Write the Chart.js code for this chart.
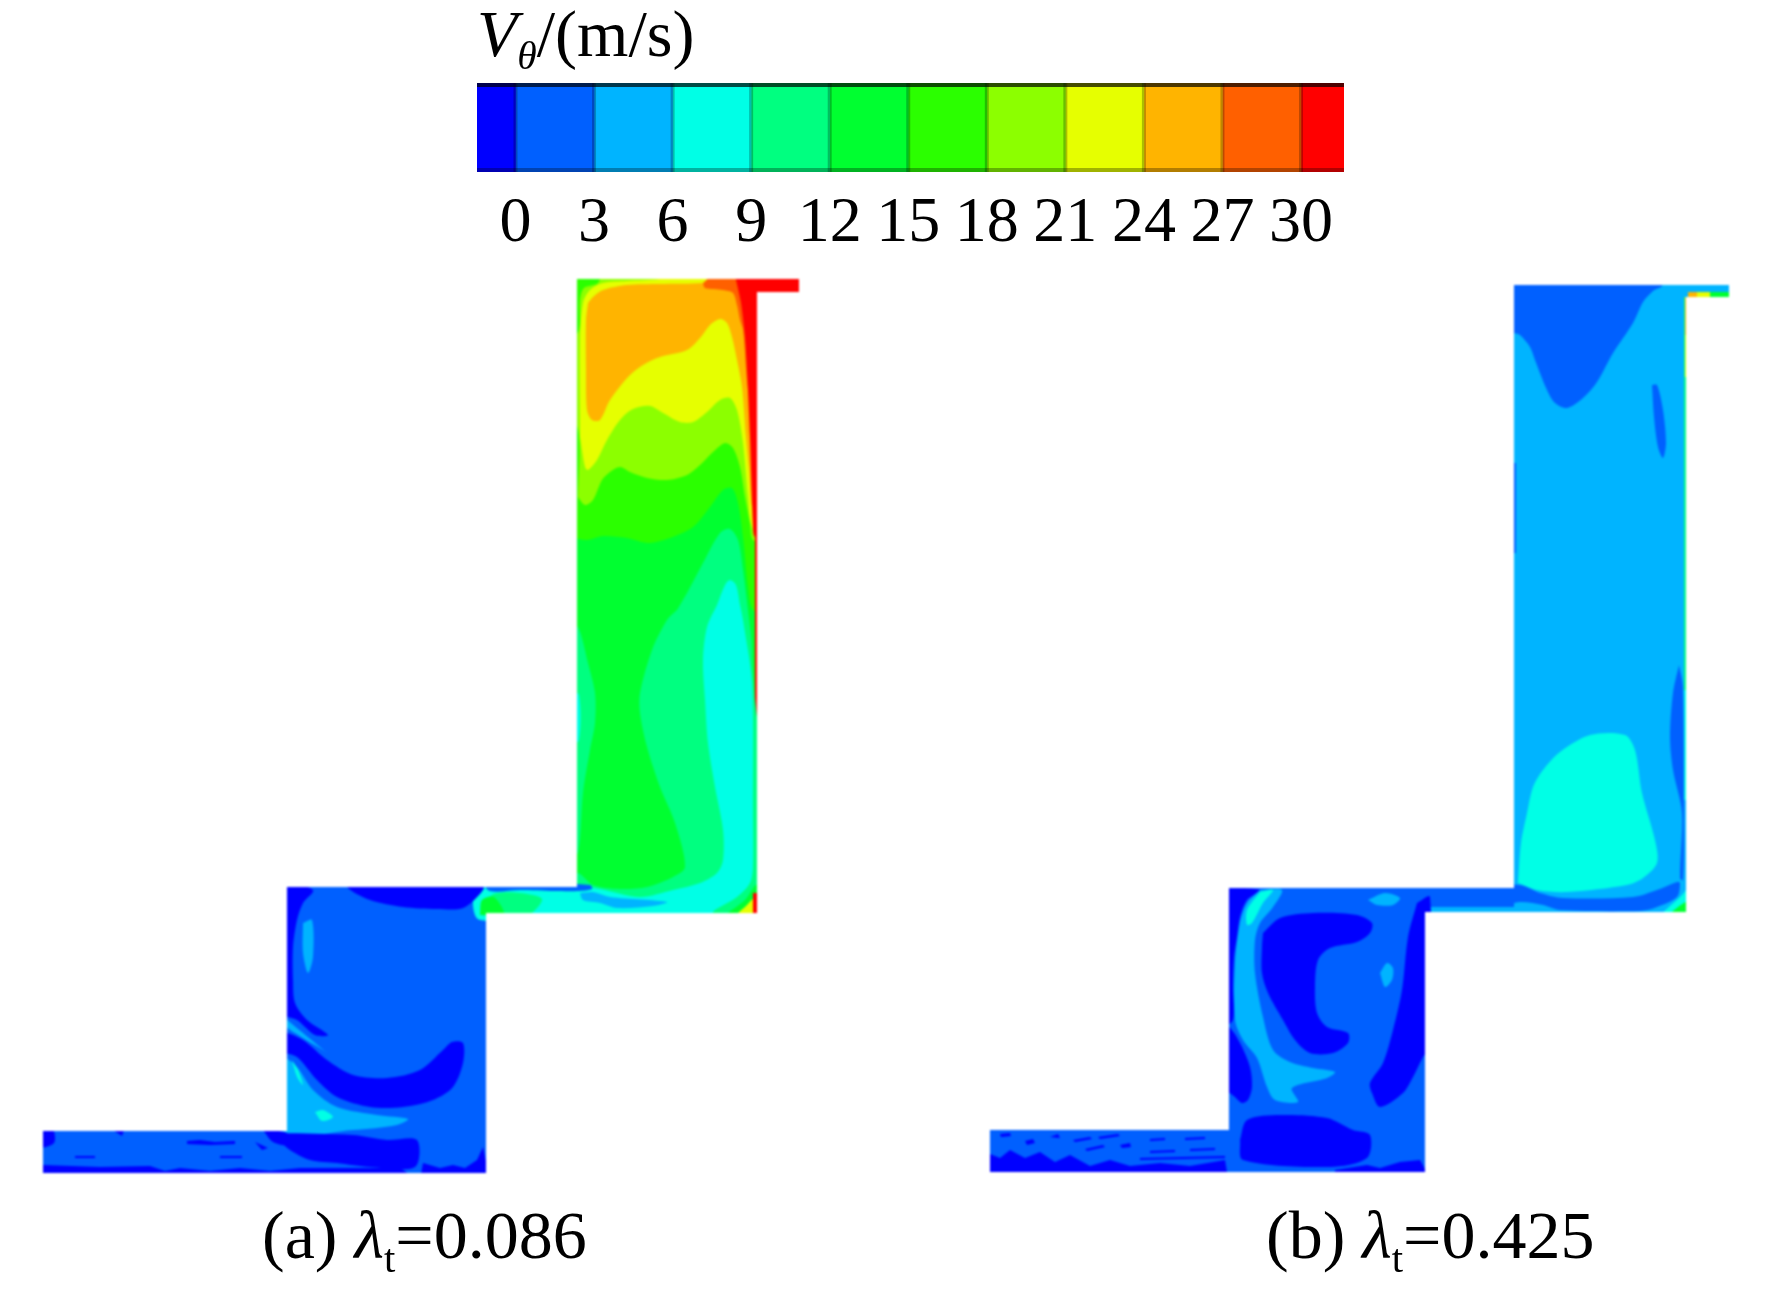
<!DOCTYPE html>
<html>
<head>
<meta charset="utf-8">
<title>V_theta contours</title>
<script src="https://cdn.jsdelivr.net/npm/chart.js@4/dist/chart.umd.min.js"></script>
<style>
    html, body { margin: 0; padding: 0; background: #fff; }
    body { position: relative; width: 1772px; height: 1292px; overflow: hidden; }
    canvas { position: absolute; }
    #contours { left: 0; top: 0; filter: blur(1px); }
    #colorbar { left: 477px; top: 83px; filter: blur(0.6px); }
    .label { position: absolute; font: 68px/1 "Liberation Serif", serif; color: #000; white-space: nowrap; }
    .label sub { font-size: 0.6em; line-height: 0; vertical-align: -0.34em; }
</style>
</head>
<body>
<canvas id="contours" width="1772" height="1292"></canvas>
<canvas id="colorbar" width="870" height="160"></canvas>
<div class="label" style="left:477px;top:1px;font-size:66px"><i>V</i><sub><i>θ</i></sub>/(m/s)</div>
<div class="label" style="left:262px;top:1201px">(a) <i>λ</i><sub>t</sub>=0.086</div>
<div class="label" style="left:1266px;top:1201px">(b) <i>λ</i><sub>t</sub>=0.425</div>
<script>
'use strict'

// colour bar: one colour per band, band edges and ticks in m/s
const TICK_VALUES = [0, 3, 6, 9, 12, 15, 18, 21, 24, 27, 30]
const BAND_EDGES = [-1.47, 0, 3, 6, 9, 12, 15, 18, 21, 24, 27, 30, 31.64]
const BAND_COLORS = ['#0000ff', '#0060ff', '#00b4ff', '#00ffe6', '#00ff80', '#00ff30',
    '#2bff00', '#8cff00', '#e6ff00', '#ffb400', '#ff6000', '#ff0000']

// contour outlines, [x, y] in picture units
const a_domain = [[43,1131],[287,1131],[287,887],[577,887],[577,279],[799,279],[799,292],[757,292],[757,913],[486,913],[486,1173],[43,1173]]
const a_box = [[570,270],[810,270],[810,300],[765,300],[765,920],[570,920]]
const a_corner = [[570,270],[600,270],[598,283],[584,288],[580,300],[579,330],[570,340]]
const a_15 = [[570,537],[587,540],[603,536],[627,538],[648,543],[670,538],[693,527],[710,507],[723,490],[732,488],[738,503],[743,537],[748,587],[753,610],[765,610],[765,270],[570,270]]
const a_18 = [[578,497],[585,505],[593,500],[602,480],[610,472],[620,467],[630,472],[647,478],[667,480],[687,475],[700,465],[713,452],[725,443],[733,448],[740,467],[745,497],[750,523],[753,540],[765,540],[765,270],[570,270],[570,400],[579,435]]
const a_21 = [[580,437],[585,467],[588,470],[597,460],[607,440],[620,420],[633,409],[650,406],[663,413],[680,422],[693,422],[707,412],[720,400],[730,398],[737,410],[743,443],[748,497],[752,527],[765,540],[765,270],[700,270],[660,279],[627,281],[603,283],[590,290],[583,303],[580,340]]
const a_24 = [[588,303],[593,297],[603,290],[627,285],[660,284],[703,283],[740,278],[755,300],[758,420],[752,505],[749,470],[746,437],[742,387],[737,360],[732,337],[727,323],[720,319],[710,325],[700,338],[687,350],[660,357],[643,365],[628,377],[610,400],[600,420],[592,420],[587,410],[586,370],[586,320]]
const a_27 = [[703,283],[705,288],[723,290],[733,293],[737,305],[740,320],[743,330],[750,400],[760,400],[760,270],[720,270]]
const a_30 = [[736,280],[741,303],[745,337],[747,370],[750,437],[753,527],[755,537],[765,537],[765,300],[810,300],[810,270],[736,270]]
const a_wall_red = [[755,530],[765,530],[765,780],[755,780]]
const a_wall_yellow = [[754,780],[765,780],[765,893],[754,893]]
const a_12_right = [[677,610],[687,593],[703,563],[720,533],[730,529],[738,540],[743,570],[748,610],[752,650],[752,905],[570,905],[570,880],[578,873],[593,885],[620,889],[647,887],[673,877],[685,867],[675,823],[660,787],[647,747],[640,713],[640,693],[652,650],[667,620]]
const a_12_left = [[570,627],[578,627],[588,663],[595,693],[595,723],[590,750],[583,793],[578,853],[570,853]]
const a_9_left = [[570,690],[579,695],[579,740],[570,745]]
const a_9 = [[717,605],[725,585],[730,580],[736,585],[740,605],[743,620],[752,683],[753,813],[753,867],[750,883],[737,897],[720,907],[713,912],[713,920],[480,920],[480,880],[577,885],[600,889],[640,897],[673,890],[700,883],[717,873],[723,860],[723,830],[715,787],[708,743],[705,700],[703,660],[707,627]]
const a_duct_12 = [[487,915],[490,897],[497,893],[520,893],[542,899],[528,915]]
const a_duct_15 = [[480,915],[482,900],[494,897],[504,915]]
const a_duct_6 = [[580,893],[593,892],[610,897],[667,902],[653,906],[617,908],[600,903],[583,900]]
const a_duct_3 = [[480,880],[590,885],[592,889],[578,891],[555,891],[520,890],[490,891]]
const a_corner_15 = [[725,915],[745,900],[757,885],[765,920]]
const a_corner_21 = [[730,920],[745,907],[757,897],[765,920]]
const a_corner_red = [[753,893],[765,893],[765,920],[753,920]]
const a_mid_arc = [[280,880],[313,890],[303,903],[297,920],[293,947],[293,980],[295,1003],[307,1020],[328,1035],[315,1035],[297,1020],[280,1012]]
const a_mid_top = [[348,880],[348,888],[370,900],[403,907],[437,909],[463,908],[483,890],[483,880]]
const a_mid_crescent = [[280,1030],[303,1040],[327,1060],[353,1075],[387,1078],[420,1070],[443,1050],[452,1042],[463,1043],[463,1063],[453,1087],[433,1100],[403,1107],[370,1107],[337,1097],[317,1080],[297,1057],[280,1050]]
const a_mid_wedge = [[280,1053],[297,1067],[313,1090],[337,1107],[377,1115],[408,1119],[397,1125],[353,1130],[280,1132]]
const a_mid_sliver = [[303,923],[312,920],[313,957],[308,973],[303,953]]
const a_mid_stripe = [[280,1014],[303,1033],[327,1053],[323,1050],[303,1038],[280,1022]]
const a_mid_spot = [[315,1112],[323,1110],[333,1117],[322,1121]]
const a_mid_spot2 = [[292,1060],[298,1070],[303,1085],[297,1077]]
const a_mid_block = [[280,1133],[353,1135],[387,1140],[417,1140],[415,1167],[370,1167],[337,1163],[310,1160],[290,1150],[280,1140]]
const a_floor = [[40,1165],[100,1167],[150,1166],[165,1171],[180,1168],[210,1171],[240,1168],[270,1171],[300,1168],[400,1168],[415,1178],[40,1178]]
const a_inlet_corner = [[40,1130],[53,1130],[54,1143],[40,1147]]
const a_inlet_fleck = [[263,1130],[287,1133],[290,1145],[273,1142]]
const a_inlet_fleck2 = [[187,1141],[200,1140],[215,1142],[235,1141],[235,1144],[210,1145],[187,1144]]
const a_inlet_fleck3 = [[113,1130],[124,1130],[122,1136]]
const a_inlet_fleck4 = [[75,1156],[95,1156],[95,1158],[75,1158]]
const a_inlet_fleck5 = [[220,1156],[242,1156],[242,1158],[220,1158]]
const a_inlet_fleck6 = [[255,1142],[268,1148],[262,1150]]
const a_floor_right = [[483,1147],[490,1180],[420,1180],[423,1163],[440,1168],[453,1165],[465,1168],[477,1160]]

const b_domain = [[990,1130],[1229,1130],[1229,888],[1514,888],[1514,285],[1729,285],[1729,297],[1686,297],[1686,912],[1425,912],[1425,1172],[990,1172]]
const b_box = [[1514,280],[1735,280],[1735,300],[1695,300],[1695,920],[1514,920]]
const b_top = [[1510,280],[1662,280],[1662,286],[1653,291],[1643,302],[1633,323],[1613,353],[1597,382],[1583,398],[1567,408],[1555,403],[1547,390],[1535,360],[1530,347],[1520,335],[1514,333],[1510,333]]
const b_sliver = [[1652,385],[1657,385],[1663,410],[1666,443],[1663,458],[1658,447],[1654,417]]
const b_left_edge = [[1510,463],[1516,463],[1516,553],[1510,553]]
const b_blob = [[1518,883],[1521,843],[1527,813],[1533,787],[1543,770],[1560,752],[1590,735],[1625,735],[1635,750],[1642,793],[1655,840],[1657,863],[1643,878],[1627,885],[1567,892],[1537,890]]
const b_right_sliver = [[1679,665],[1683,687],[1684,823],[1683,880],[1680,878],[1682,813],[1673,770],[1670,737],[1673,693]]
const b_band = [[1420,885],[1520,885],[1540,893],[1563,898],[1633,897],[1657,890],[1677,882],[1680,883],[1677,897],[1657,907],[1640,911],[1560,910],[1543,905],[1520,902],[1500,907],[1420,906]]
const b_duct_floor = [[1425,907],[1514,907],[1514,915],[1425,915]]
const b_wall_12 = [[1684,297],[1695,297],[1695,690],[1684,690]]
const b_wall_9 = [[1684,690],[1695,690],[1695,800],[1684,800]]
const b_wall_21 = [[1685,335],[1695,335],[1695,377],[1685,377]]
const b_wall_24 = [[1685,297],[1695,297],[1695,335],[1685,335]]
const b_stub_24 = [[1688,292],[1697,292],[1697,300],[1688,300]]
const b_stub_21 = [[1697,292],[1710,292],[1710,300],[1697,300]]
const b_stub_15 = [[1710,292],[1735,292],[1735,300],[1710,300]]
const b_corner_9 = [[1660,915],[1682,895],[1695,880],[1695,915]]
const b_corner_12 = [[1668,915],[1684,903],[1695,900],[1695,915]]
const b_mid_left = [[1220,888],[1260,890],[1247,900],[1240,917],[1237,937],[1234,957],[1233,987],[1233,1020],[1220,1027]]
const b_mid_left2 = [[1220,1027],[1229,1027],[1240,1043],[1250,1067],[1252,1087],[1248,1100],[1242,1103],[1235,1097],[1220,1083]]
const b_mid_c = [[1263,933],[1280,918],[1313,913],[1357,915],[1372,923],[1370,933],[1357,942],[1330,948],[1318,960],[1315,987],[1317,1013],[1327,1027],[1348,1033],[1348,1043],[1333,1053],[1310,1053],[1295,1040],[1283,1020],[1268,993],[1262,973],[1262,947]]
const b_mid_right = [[1417,903],[1430,897],[1430,1047],[1423,1057],[1413,1077],[1403,1093],[1380,1107],[1372,1093],[1370,1083],[1383,1063],[1393,1030],[1402,990],[1408,937]]
const b_mid_blob = [[1240,1140],[1247,1120],[1280,1115],[1327,1118],[1353,1130],[1370,1135],[1367,1158],[1330,1167],[1243,1160]]
const b_mid_swirl = [[1260,890],[1282,890],[1273,907],[1260,923],[1255,940],[1255,973],[1263,1017],[1273,1050],[1290,1062],[1313,1068],[1335,1072],[1327,1078],[1292,1088],[1298,1102],[1275,1100],[1267,1087],[1257,1058],[1243,1040],[1235,1020],[1235,963],[1240,923],[1247,903]]
const b_mid_swirl_top = [[1260,892],[1273,890],[1263,903],[1252,923],[1247,925],[1247,910]]
const b_mid_spot = [[1368,900],[1385,893],[1400,898],[1393,905],[1377,905]]
const b_mid_spot2 = [[1380,973],[1387,963],[1393,968],[1392,980],[1385,987]]
const b_floor = [[985,1152],[1000,1158],[1010,1150],[1025,1158],[1040,1152],[1055,1162],[1070,1155],[1090,1166],[1110,1160],[1130,1166],[1160,1163],[1190,1166],[1225,1160],[1228,1178],[985,1178]]
const b_floor_right = [[1335,1170],[1367,1165],[1380,1168],[1400,1162],[1420,1160],[1430,1178],[1335,1178]]
const b_fleck1 = [[1073,1140],[1090,1137],[1092,1139],[1075,1142]]
const b_fleck2 = [[1098,1137],[1118,1134],[1120,1136],[1100,1139]]
const b_fleck3 = [[1085,1149],[1103,1145],[1105,1147],[1087,1151]]
const b_fleck4 = [[1000,1134],[1010,1133],[1011,1136],[1001,1137]]
const b_fleck5 = [[1150,1139],[1165,1138],[1165,1140],[1150,1141]]
const b_fleck6 = [[1185,1138],[1205,1137],[1205,1139],[1185,1140]]
const b_fleck7 = [[1150,1151],[1175,1150],[1175,1152],[1150,1153]]
const b_fleck8 = [[1190,1149],[1215,1148],[1215,1150],[1190,1151]]
const b_fleck9 = [[1140,1158],[1225,1156],[1225,1158],[1140,1160]]
const b_fleck10 = [[1025,1141],[1033,1139],[1035,1143],[1027,1145]]
const b_fleck11 = [[1050,1137],[1058,1134],[1060,1138]]
const b_fleck12 = [[1120,1145],[1130,1143],[1131,1147],[1122,1148]]

// painting order, bottom first: [band index, outline, straight edges]
const LAYERS = [
    [1, a_domain, true],
    [5, a_box, true],
    [6, a_15],
    [7, a_18],
    [6, a_corner],
    [8, a_21],
    [9, a_24],
    [10, a_27],
    [11, a_30],
    [11, a_wall_red, true],
    [8, a_wall_yellow, true],
    [4, a_12_right],
    [4, a_12_left],
    [3, a_9_left],
    [3, a_9],
    [4, a_duct_12],
    [5, a_duct_15],
    [2, a_duct_6],
    [1, a_duct_3],
    [5, a_corner_15],
    [8, a_corner_21],
    [11, a_corner_red, true],
    [0, a_mid_arc],
    [0, a_mid_top],
    [0, a_mid_crescent],
    [2, a_mid_wedge],
    [2, a_mid_sliver],
    [2, a_mid_stripe],
    [3, a_mid_spot],
    [3, a_mid_spot2],
    [0, a_mid_block],
    [0, a_floor, true],
    [0, a_inlet_corner],
    [0, a_inlet_fleck],
    [0, a_inlet_fleck2, true],
    [0, a_inlet_fleck3, true],
    [0, a_inlet_fleck4, true],
    [0, a_inlet_fleck5, true],
    [0, a_inlet_fleck6, true],
    [0, a_floor_right, true],
    [1, b_domain, true],
    [2, b_box, true],
    [1, b_top],
    [1, b_sliver],
    [1, b_left_edge, true],
    [3, b_blob],
    [1, b_right_sliver],
    [1, b_band],
    [2, b_duct_floor, true],
    [4, b_wall_12, true],
    [3, b_wall_9, true],
    [8, b_wall_21, true],
    [9, b_wall_24, true],
    [9, b_stub_24, true],
    [8, b_stub_21, true],
    [5, b_stub_15, true],
    [3, b_corner_9],
    [5, b_corner_12],
    [0, b_mid_left],
    [0, b_mid_left2],
    [0, b_mid_c],
    [0, b_mid_right],
    [0, b_mid_blob],
    [2, b_mid_swirl],
    [3, b_mid_swirl_top],
    [2, b_mid_spot],
    [2, b_mid_spot2],
    [0, b_floor, true],
    [0, b_floor_right, true],
    [0, b_fleck1, true],
    [0, b_fleck2, true],
    [0, b_fleck3, true],
    [0, b_fleck4, true],
    [0, b_fleck5, true],
    [0, b_fleck6, true],
    [0, b_fleck7, true],
    [0, b_fleck8, true],
    [0, b_fleck9, true],
    [0, b_fleck10, true],
    [0, b_fleck11, true],
    [0, b_fleck12, true],
]

const DOMAINS = [a_domain, b_domain]

// keep every contour inside the flow passage
const clipToDomains = {
    id: 'clipToDomains',
    beforeDatasetsDraw(chart) {
        const { ctx, scales } = chart
        ctx.save()
        ctx.beginPath()
        DOMAINS.forEach((outline) => {
            outline.forEach(([x, y], i) => {
                const px = scales.x.getPixelForValue(x)
                const py = scales.y.getPixelForValue(y)
                if (i === 0) ctx.moveTo(px, py)
                else ctx.lineTo(px, py)
            })
            ctx.closePath()
        })
        ctx.clip()
    },
    afterDatasetsDraw(chart) {
        chart.ctx.restore()
    },
}

new Chart(document.getElementById('contours'), {
    type: 'scatter',
    data: {
        datasets: LAYERS.map(([band, outline, straight], i) => ({
            data: [...outline, outline[0]].map(([x, y]) => ({ x, y })),
            showLine: true,
            fill: 'shape',
            backgroundColor: BAND_COLORS[band],
            borderWidth: 0,
            pointRadius: 0,
            tension: straight ? 0 : 0.3,
            order: LAYERS.length - i,
        })),
    },
    options: {
        responsive: false,
        animation: false,
        events: [],
        layout: { padding: 0 },
        plugins: {
            legend: { display: false },
            tooltip: { enabled: false },
            filler: { drawTime: 'beforeDatasetDraw', propagate: false },
        },
        scales: {
            x: { type: 'linear', min: 0, max: 1772, display: false },
            y: { type: 'linear', min: 0, max: 1292, reverse: true, display: false },
        },
    },
    plugins: [clipToDomains],
})

// dark rim and band separators of the colour bar
const barShading = {
    id: 'barShading',
    afterDatasetsDraw(chart) {
        const { ctx, chartArea, scales } = chart
        ctx.save()
        ctx.fillStyle = 'rgba(0,0,0,0.25)'
        TICK_VALUES.forEach((value) => {
            ctx.fillRect(scales.x.getPixelForValue(value) - 2, chartArea.top, 4, chartArea.height)
        })
        ctx.fillStyle = 'rgba(0,0,0,0.7)'
        ctx.fillRect(chartArea.left, chartArea.top, chartArea.width, 4)
        ctx.fillStyle = 'rgba(0,0,0,0.3)'
        ctx.fillRect(chartArea.left, chartArea.bottom - 4, chartArea.width, 4)
        ctx.restore()
    },
}

new Chart(document.getElementById('colorbar'), {
    type: 'bar',
    data: {
        labels: ['V'],
        datasets: BAND_COLORS.map((color, i) => ({
            data: [[BAND_EDGES[i], BAND_EDGES[i + 1]]],
            backgroundColor: color,
            barPercentage: 1,
            categoryPercentage: 1,
            grouped: false,
        })),
    },
    options: {
        indexAxis: 'y',
        responsive: false,
        animation: false,
        events: [],
        layout: { padding: 0 },
        plugins: {
            legend: { display: false },
            tooltip: { enabled: false },
        },
        scales: {
            y: { display: false },
            x: {
                type: 'linear',
                min: BAND_EDGES[0],
                max: BAND_EDGES[BAND_EDGES.length - 1],
                grid: { display: false, drawTicks: false },
                border: { display: false },
                afterBuildTicks: (axis) => { axis.ticks = TICK_VALUES.map((value) => ({ value })) },
                afterFit: (axis) => { axis.height = 71 },
                ticks: {
                    autoSkip: false,
                    maxRotation: 0,
                    padding: 14,
                    color: '#000',
                    font: { family: '"Liberation Serif", serif', size: 64 },
                },
            },
        },
    },
    plugins: [barShading],
})
</script>
</body>
</html>
